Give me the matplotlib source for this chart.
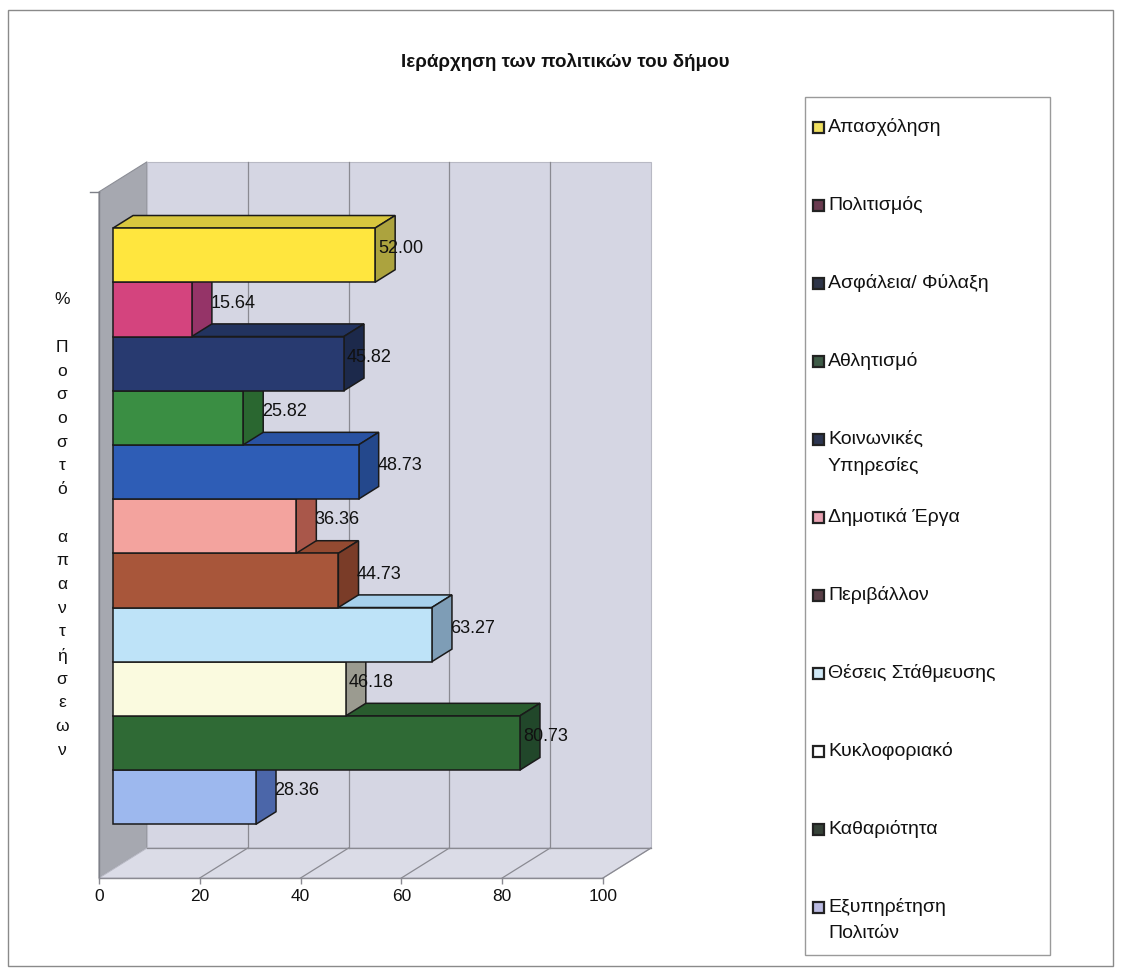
import matplotlib
matplotlib.use("Agg")
import matplotlib.pyplot as plt
from matplotlib.patches import Polygon, Rectangle
from matplotlib.lines import Line2D

plt.rcParams['font.family'] = ['Liberation Sans', 'DejaVu Sans']

# ---- data -------------------------------------------------------------
categories = [
    "Απασχόληση", "Πολιτισμός", "Ασφάλεια/ Φύλαξη", "Αθλητισμό",
    "Κοινωνικές\nΥπηρεσίες", "Δημοτικά Έργα", "Περιβάλλον",
    "Θέσεις Στάθμευσης", "Κυκλοφοριακό", "Καθαριότητα",
    "Εξυπηρέτηση\nΠολιτών",
]
values = [52.00, 15.64, 45.82, 25.82, 48.73, 36.36, 44.73, 63.27, 46.18, 80.73, 28.36]
x_ticks = [0, 20, 40, 60, 80, 100]
title = "Ιεράρχηση των πολιτικών του δήμου"
y_label = "% Ποσοστό απαντήσεων"

# ---- styles -----------------------------------------------------------
front_colors = ["#FFE63E", "#D4447E", "#283A70", "#3A8E43", "#2E5DB6", "#F3A39E",
                "#A8563A", "#BEE3F8", "#FAFADF", "#2F6A35", "#9DB8EE"]
top_colors = ["#D8C63E", "#B23A6C", "#22335F", "#317A39", "#2952A2", "#D88E88",
              "#934A31", "#A6D0EC", "#DADAC4", "#295C2E", "#8AA4DA"]
side_colors = ["#ACA33E", "#953468", "#1C294B", "#2A6730", "#24488C", "#A9574A",
               "#7A3C28", "#7E9DB6", "#9B9B90", "#21472A", "#4B66A9"]
swatch_colors = ["#F0E060", "#6A3B50", "#2E3448", "#3E5B47", "#2C3550", "#E8A2B2",
                 "#5A4048", "#D0E8F6", "#FFFFFF", "#364238", "#BBBBE2"]
label_past_side = [False, True, False, True, True, True, True, True, False, False, True]

W, H, DPI = 1121, 969, 100
fig = plt.figure(figsize=(W / DPI, H / DPI), dpi=DPI)
fig.patch.set_facecolor("white")


def fx(px):
    return px / W


def fy(py):
    return 1 - py / H


# front plane of the plot: x 0..100, category axis with a floor/ceiling margin
floor_y, ceil_y = -0.83, 11.83
ax_top_y = 12.4
left_px, right_px, bottom_px = 99, 603, 878
px_per_y = 54.2
top_px = bottom_px - (ax_top_y - floor_y) * px_per_y
ax = fig.add_axes([fx(left_px), fy(bottom_px), fx(right_px) - fx(left_px),
                   fy(top_px) - fy(bottom_px)])
ax.set_xlim(0, 100)
ax.set_ylim(floor_y, ax_top_y)
ax.set_facecolor("none")

# oblique depth offset (data units for full depth)
DX = 48 / ((right_px - left_px) / 100)
DY = 30 / px_per_y
z0, z1 = 0.29, 0.71


def proj(x, y, z):
    return (x + z * DX, y + z * DY)


wall_back = "#D5D6E3"
wall_side = "#A6A8B0"
floor_col = "#DBDCE7"
grid_col = "#8A8A92"

# side wall
ax.add_patch(Polygon([proj(0, floor_y, 0), proj(0, floor_y, 1), proj(0, ceil_y, 1),
                      proj(0, ceil_y, 0)], closed=True, facecolor=wall_side,
                     edgecolor="#8C8E96", lw=0.8, clip_on=False, zorder=1))
# back wall
ax.add_patch(Polygon([proj(0, floor_y, 1), proj(100, floor_y, 1), proj(100, ceil_y, 1),
                      proj(0, ceil_y, 1)], closed=True, facecolor=wall_back,
                     edgecolor="#B8B9C4", lw=0.8, clip_on=False, zorder=1))
# floor
ax.add_patch(Polygon([proj(0, floor_y, 0), proj(100, floor_y, 0), proj(100, floor_y, 1),
                      proj(0, floor_y, 1)], closed=True, facecolor=floor_col,
                     edgecolor="#B8B9C4", lw=0.8, clip_on=False, zorder=1))
# gridlines on back wall and floor
for t in x_ticks[1:]:
    if t < 100:
        xs, ys = zip(proj(t, floor_y, 1), proj(t, ceil_y, 1))
        ax.add_line(Line2D(xs, ys, color=grid_col, lw=0.9, clip_on=False, zorder=2))
    xs, ys = zip(proj(t, floor_y, 0), proj(t, floor_y, 1))
    ax.add_line(Line2D(xs, ys, color=grid_col, lw=0.9, clip_on=False, zorder=2))
xs, ys = zip(proj(0, floor_y, 1), proj(100, floor_y, 1))
ax.add_line(Line2D(xs, ys, color=grid_col, lw=0.9, clip_on=False, zorder=2))
# vertical axis edge
ax.add_line(Line2D([0, 0], [floor_y, ceil_y], color="#7E8088", lw=1.0,
                   clip_on=False, zorder=2))
ax.add_line(Line2D([-1.8, 0], [ceil_y, ceil_y], color="#7E8088", lw=1.0,
                   clip_on=False, zorder=2))

# bars: drawn from the bottom category upward so upper bars cover lower ones
n = len(values)
for i in reversed(range(n)):
    v = values[i]
    yb = n - 1 - i
    z = 3 + (n - i) * 0.01
    ax.barh(yb + 0.5 + z0 * DY, v, height=1.0, left=z0 * DX,
            color=front_colors[i], edgecolor="#1A1A1A", lw=1.1, zorder=z, clip_on=False)
    top = [proj(0, yb + 1, z0), proj(v, yb + 1, z0), proj(v, yb + 1, z1), proj(0, yb + 1, z1)]
    ax.add_patch(Polygon(top, closed=True, facecolor=top_colors[i], edgecolor="#1A1A1A",
                         lw=1.1, zorder=z - 0.001, clip_on=False))
    side = [proj(v, yb, z0), proj(v, yb, z1), proj(v, yb + 1, z1), proj(v, yb + 1, z0)]
    ax.add_patch(Polygon(side, closed=True, facecolor=side_colors[i], edgecolor="#1A1A1A",
                         lw=1.1, zorder=z - 0.001, clip_on=False))
    off = (z1 - z0) * DX - 0.3 if label_past_side[i] else 0.6
    lx = v + z0 * DX + off
    ly = yb + 0.5 + 0.5 * DY
    ax.text(lx, ly, f"{v:.2f}", ha="left", va="center", fontsize=13,
            color="#111111", zorder=10)

# axis cosmetics
for s in ("top", "right", "left"):
    ax.spines[s].set_visible(False)
ax.spines["bottom"].set_color(grid_col)
ax.spines["bottom"].set_linewidth(1.0)
ax.spines["bottom"].set_zorder(2.5)
ax.set_yticks([])
ax.set_xticks(x_ticks)
ax.set_xticklabels([str(t) for t in x_ticks], fontsize=12.5, color="#111111")
ax.tick_params(axis="x", direction="out", length=4, width=1.0, color=grid_col, pad=4)

# title
fig.text(fx(565), fy(62), title, ha="center", va="center", fontsize=13.5,
         fontweight="bold", color="#111111")

# vertical label, one character per line with a blank line between words
label_lines = []
for word in y_label.split(" "):
    label_lines.extend(list(word))
    label_lines.append("")
label_lines = label_lines[:-1]
for k, ch in enumerate(label_lines):
    if ch:
        fig.text(fx(62), fy(300 + k * 23.7), ch, ha="center", va="center",
                 fontsize=12.5, color="#111111")

# legend
fig.add_artist(Rectangle((fx(805), fy(955)), fx(1050) - fx(805), fy(97) - fy(955),
                         transform=fig.transFigure, facecolor="white",
                         edgecolor="#9A9A9A", lw=1.0))
for i, name in enumerate(categories):
    yc = 127 + i * 78
    sw = 11
    fig.add_artist(Rectangle((fx(813), fy(yc + sw / 2)), sw / W, sw / H,
                             transform=fig.transFigure, facecolor=swatch_colors[i],
                             edgecolor="#222222", lw=1.6))
    for j, ln in enumerate(name.split("\n")):
        fig.text(fx(828), fy(yc + j * 27), ln, ha="left", va="center",
                 fontsize=14, color="#111111")

# outer frame
fig.add_artist(Rectangle((fx(8), fy(966)), fx(1113) - fx(8), fy(10) - fy(966),
                         transform=fig.transFigure, facecolor="none",
                         edgecolor="#8A8A8A", lw=1.0))

fig.savefig("out.png", dpi=DPI, facecolor="white")
